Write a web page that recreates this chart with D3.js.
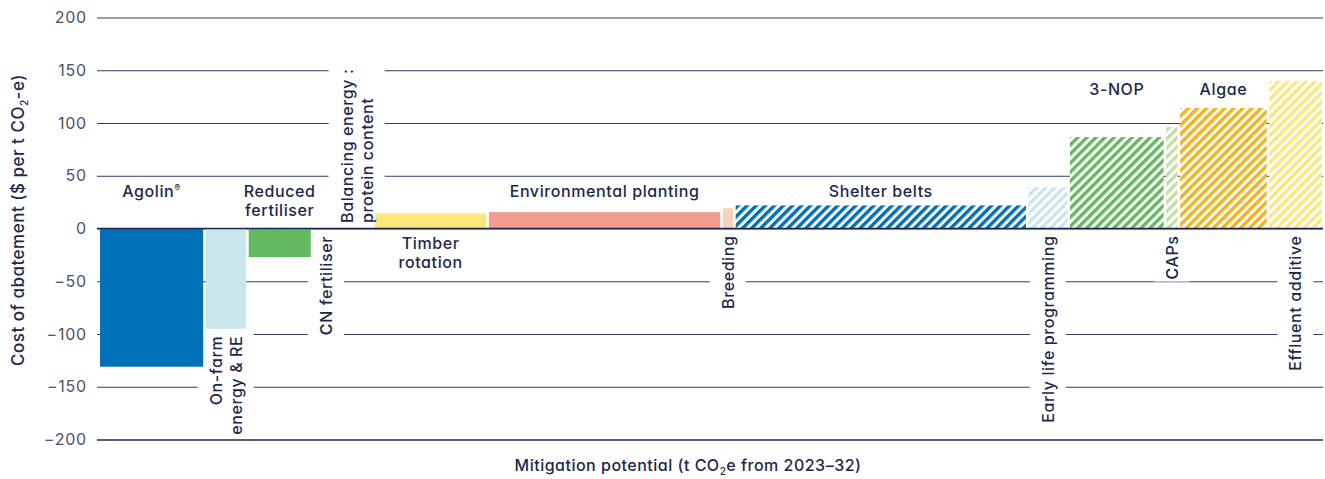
<!DOCTYPE html>
<html>
<head>
<meta charset="utf-8">
<script src="https://cdn.jsdelivr.net/npm/d3@7"></script>
<style>
  body { margin: 0; background: #fff; }
  svg { display: block; font-family: Inter, "Noto Sans", sans-serif; font-feature-settings: "cv11" 1; }
</style>
</head>
<body>
<svg id="chart" width="1325" height="479"></svg>
<script>
// abatement measures, in order along the curve
const measures = ["Agolin®", "On-farm energy & RE", "Reduced fertiliser", "CN fertiliser",
  "Balancing energy : protein content", "Timber rotation", "Environmental planting", "Breeding",
  "Shelter belts", "Early life programming", "3-NOP", "CAPs", "Algae", "Effluent additive"];
// mitigation potential (bar width, Mt CO2e 2023-32)
const potential = [10.55, 4.3, 6.45, 2.8, 3.35, 11.4, 23.35, 1.3, 29.25, 4.15, 9.6, 1.4, 8.9, 5.5];
// cost of abatement ($ per t CO2-e)
const cost = [-131, -95, -27, -0.5, 0.5, 14.3, 15.5, 19.3, 21.9, 39.2, 86.7, 96.2, 114.3, 140];
const yTicks = [-200, -150, -100, -50, 0, 50, 100, 150, 200];

// styling
const colours = ["#0071b9", "#c9e7eb", "#63b95d", "#63b95d", "#fde77c", "#fde77c", "#f39a91", "#fdd2bd",
  "#0071b9", "#c9e7eb", "#63b95d", "#c3dfa6", "#f7b11b", "#fde77c"];
const hatched = [false, false, false, false, false, false, false, false, true, true, true, true, true, true];
const navy = "#1c2750";

// label layout: h = horizontal above, hb = horizontal below zero, rb = rotated below, ra = rotated above
const labelLayout = {
  "Agolin®": { type: "h", row: 197, lines: ["Agolin®"] },
  "On-farm energy & RE": { type: "rb", lines: ["On-farm", "energy & RE"] },
  "Reduced fertiliser": { type: "h", row: 197, lines: ["Reduced", "fertiliser"] },
  "CN fertiliser": { type: "rb", lines: ["CN fertiliser"] },
  "Balancing energy : protein content": { type: "ra", lines: ["Balancing energy :", "protein content"] },
  "Timber rotation": { type: "hb", lines: ["Timber", "rotation"] },
  "Environmental planting": { type: "h", row: 197, lines: ["Environmental planting"] },
  "Breeding": { type: "rb", lines: ["Breeding"] },
  "Shelter belts": { type: "h", row: 197, lines: ["Shelter belts"] },
  "Early life programming": { type: "rb", lines: ["Early life programming"] },
  "3-NOP": { type: "h", row: 95, lines: ["3-NOP"] },
  "CAPs": { type: "rb", lines: ["CAPs"] },
  "Algae": { type: "h", row: 95, lines: ["Algae"] },
  "Effluent additive": { type: "rb", lines: ["Effluent additive"] }
};

let svg = d3.select('#chart');
let left = 97, right = 1323;

let starts = [];
potential.reduce((acc, p, i) => { starts[i] = acc; return acc + p; }, 0);

let x = d3.scaleLinear()
  .domain([0, d3.sum(potential)])
  .range([98.8, right]);

let y = d3.scaleLinear()
  .domain([-200, 200])
  .range([439.5, 17.5]);

// hatch patterns
let defs = svg.append('defs');
colours.forEach((c, i) => {
  if (!hatched[i]) return;
  let p = defs.append('pattern')
    .attr('id', 'hatch' + i)
    .attr('patternUnits', 'userSpaceOnUse')
    .attr('width', 6.4)
    .attr('height', 6.4)
    .attr('patternTransform', 'rotate(45)');
  p.append('rect').attr('width', 6.4).attr('height', 6.4).attr('fill', '#fff');
  p.append('rect').attr('width', 3.4).attr('height', 6.4).attr('fill', c);
});

// grid + tick labels
let yAxis = svg.append('g')
  .attr('transform', `translate(${left},0)`)
  .call(d3.axisLeft(y).tickValues(yTicks).tickSize(-(right - left)).tickPadding(10));
yAxis.select('.domain').remove();
yAxis.selectAll('line')
  .attr('stroke', d => (d === -200 ? navy : '#333d62'))
  .attr('stroke-width', d => (d === -200 ? 1.6 : 1));
yAxis.selectAll('text')
  .attr('fill', '#4a5372')
  .style('font-size', '16px')
  .style('letter-spacing', '0.8px')
  .style('font-family', 'Inter, "Noto Sans", sans-serif');

let data = measures.map((m, i) => ({ name: m, w: potential[i], v: cost[i], s: starts[i], i: i }));

// layers: label backings sit under the bars, label text on top
let backLayer = svg.append('g');
let barLayer = svg.append('g');
let zeroLayer = svg.append('g');
let labels = svg.append('g');

// bars
barLayer.selectAll('rect')
  .data(data)
  .enter()
  .append('rect')
  .attr('x', d => x(d.s) + 1.25)
  .attr('width', d => Math.max(0, x(d.s + d.w) - x(d.s) - 2.5))
  .attr('y', d => y(Math.max(0, d.v)))
  .attr('height', d => Math.abs(y(d.v) - y(0)))
  .attr('fill', d => hatched[d.i] ? `url(#hatch${d.i})` : colours[d.i]);

// zero line on top
zeroLayer.append('line')
  .attr('x1', left).attr('x2', right)
  .attr('y1', y(0)).attr('y2', y(0))
  .attr('stroke', navy)
  .attr('stroke-width', 1.6);

// labels
let addLine = (t, str) => {
  if (str.endsWith('®')) {
    t.append('tspan').text(str.slice(0, -1));
    t.append('tspan').text('®').style('font-size', '9px').attr('dy', -6);
  } else {
    t.text(str);
  }
};

let labelStyle = t => t
  .attr('fill', navy)
  .style('font-size', '16px')
  .style('font-weight', 500)
  .style('letter-spacing', '0.6px');

data.forEach(d => {
  let lay = labelLayout[d.name];
  let cx = (x(d.s) + x(d.s + d.w)) / 2;
  if (lay.type === 'h' || lay.type === 'hb') {
    let base = lay.type === 'h' ? lay.row : 249;
    lay.lines.forEach((ln, k) => {
      let t = labels.append('text')
        .attr('x', cx)
        .attr('y', base + k * 19)
        .attr('text-anchor', 'middle')
        .call(labelStyle);
      addLine(t, ln);
    });
  } else {
    let below = lay.type === 'rb';
    let ay = below ? y(Math.min(0, d.v)) + 7 : y(Math.max(0, d.v)) - 5;
    let tr = `translate(${cx},${ay}) rotate(-90)`;
    let g = labels.append('g').attr('transform', tr);
    let n = lay.lines.length, lh = 20;
    let texts = lay.lines.map((ln, k) =>
      g.append('text')
        .attr('x', 0)
        .attr('y', (k - (n - 1) / 2) * lh + 5.8)
        .attr('text-anchor', below ? 'end' : 'start')
        .call(labelStyle)
        .text(ln));
    // white backing so the grid breaks around the label
    let boxes = texts.map(t => t.node().getBBox());
    let x0 = d3.min(boxes, b => b.x), x1 = d3.max(boxes, b => b.x + b.width);
    let y0 = d3.min(boxes, b => b.y), y1 = d3.max(boxes, b => b.y + b.height);
    backLayer.append('rect')
      .attr('transform', tr)
      .attr('x', x0 - 2).attr('width', x1 - x0 + 4)
      .attr('y', y0 - 8).attr('height', y1 - y0 + 16)
      .attr('fill', '#fff');
  }
});

// axis titles
let yTitle = svg.append('text')
  .attr('transform', 'translate(24,220) rotate(-90)')
  .attr('text-anchor', 'middle')
  .attr('fill', navy)
  .style('font-size', '17px')
  .style('font-weight', 500)
  .style('letter-spacing', '0.5px');
yTitle.append('tspan').text('Cost of abatement ($ per t CO');
yTitle.append('tspan').text('2').style('font-size', '10px').attr('dy', 4);
yTitle.append('tspan').text('-e)').attr('dy', -4);

let xTitle = svg.append('text')
  .attr('x', 688)
  .attr('y', 471)
  .attr('text-anchor', 'middle')
  .attr('fill', navy)
  .style('font-size', '16px')
  .style('font-weight', 500)
  .style('letter-spacing', '0.5px');
xTitle.append('tspan').text('Mitigation potential (t CO');
xTitle.append('tspan').text('2').style('font-size', '10px').attr('dy', 4);
xTitle.append('tspan').text('e from 2023–32)').attr('dy', -4);
</script>
</body>
</html>
